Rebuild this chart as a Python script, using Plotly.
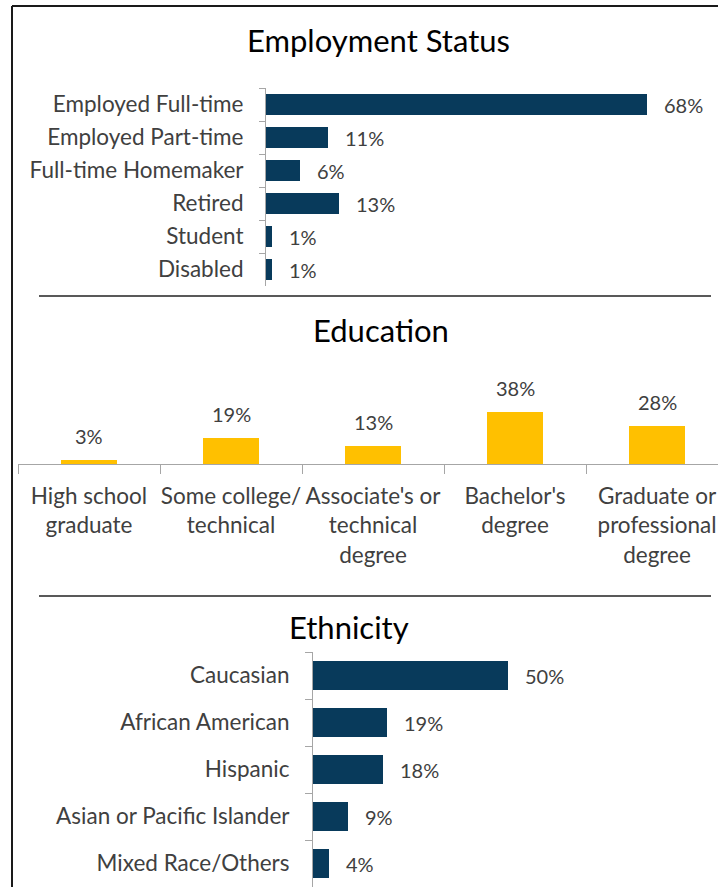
import plotly.graph_objects as go

# Employment status shares (%)
employment_cats = ["Employed Full-time", "Employed Part-time", "Full-time Homemaker",
                   "Retired", "Student", "Disabled"]
employment_vals = [68, 11, 6, 13, 1, 1]

# Education shares (%)
education_cats = ["High school<br>graduate", "Some college/<br>technical",
                  "Associate's or<br>technical<br>degree", "Bachelor's<br>degree",
                  "Graduate or<br>professional<br>degree"]
education_vals = [3, 19, 13, 38, 28]

# Ethnicity shares (%)
ethnicity_cats = ["Caucasian", "African American", "Hispanic",
                  "Asian or Pacific Islander", "Mixed Race/Others"]
ethnicity_vals = [50, 19, 18, 9, 4]

W, H = 718, 887
NAVY = "#083A5B"
GOLD = "#FFC000"
TXT = "#404040"
AXIS = "#A6A6A6"
FONT = "Lato"


def px(x):
    return x / W


def py(y):
    return 1 - y / H


fig = go.Figure()

fig.add_trace(go.Bar(x=employment_vals, y=employment_cats, orientation="h",
                     marker=dict(color=NAVY, line=dict(width=0)), width=0.62,
                     xaxis="x", yaxis="y", hoverinfo="skip"))
fig.add_trace(go.Bar(x=education_cats, y=education_vals,
                     marker=dict(color=GOLD, line=dict(width=0)), width=0.4,
                     xaxis="x2", yaxis="y2", hoverinfo="skip"))
fig.add_trace(go.Bar(x=ethnicity_vals, y=ethnicity_cats, orientation="h",
                     marker=dict(color=NAVY, line=dict(width=0)), width=0.63,
                     xaxis="x3", yaxis="y3", hoverinfo="skip"))

valfont = dict(size=20, color=TXT, family=FONT)
annotations = []
for c, v in zip(employment_cats, employment_vals):
    annotations.append(dict(x=v, y=c, xref="x", yref="y", text=f"{v}%", showarrow=False,
                            xanchor="left", xshift=15, font=valfont))
for c, v in zip(education_cats, education_vals):
    annotations.append(dict(x=c, y=v, xref="x2", yref="y2", text=f"{v}%", showarrow=False,
                            yanchor="middle", yshift=24, font=valfont))
for c, v in zip(ethnicity_cats, ethnicity_vals):
    annotations.append(dict(x=v, y=c, xref="x3", yref="y3", text=f"{v}%", showarrow=False,
                            xanchor="left", xshift=15, font=valfont))

# Panel titles
for text, cx, cy in [("Employment Status", 378, 40), ("Education", 381, 330), ("Ethnicity", 349, 627)]:
    annotations.append(dict(x=px(cx), y=py(cy), xref="paper", yref="paper", text=text,
                            showarrow=False, xanchor="center", yanchor="middle",
                            font=dict(size=31, color="#000000", family=FONT)))

shapes = [
    # outer frame (left and top edges)
    dict(type="line", xref="paper", yref="paper", x0=px(12), x1=px(12), y0=py(6), y1=0,
         line=dict(color="#1A1A1A", width=2)),
    dict(type="line", xref="paper", yref="paper", x0=px(12), x1=1, y0=py(6), y1=py(6),
         line=dict(color="#1A1A1A", width=2)),
    # panel separators
    dict(type="line", xref="paper", yref="paper", x0=px(39), x1=px(711), y0=py(296), y1=py(296),
         line=dict(color="#595959", width=2)),
    dict(type="line", xref="paper", yref="paper", x0=px(39), x1=px(711), y0=py(596), y1=py(596),
         line=dict(color="#595959", width=2)),
]

tickfont = dict(size=22.5, color=TXT, family=FONT)

fig.update_layout(
    width=W, height=H, margin=dict(l=0, r=0, t=0, b=0),
    paper_bgcolor="white", plot_bgcolor="rgba(0,0,0,0)",
    showlegend=False, bargap=0,
    font=dict(family=FONT, color=TXT),
    annotations=annotations, shapes=shapes,
    # Employment panel
    xaxis=dict(domain=[px(266), 1], range=[0, (718 - 266) / 5.6], showgrid=False,
               zeroline=False, showticklabels=False, showline=False),
    yaxis=dict(domain=[py(286), py(88)], type="category", categoryorder="array",
               categoryarray=employment_cats, range=[5.5, -0.5], anchor="x",
               showline=True, linecolor=AXIS, linewidth=1, ticks="outside",
               tickson="boundaries", ticklen=6, tickcolor=AXIS, tickfont=tickfont,
               ticklabelstandoff=17, showgrid=False, zeroline=False),
    # Education panel
    xaxis2=dict(domain=[px(18), 1], type="category", categoryorder="array",
                categoryarray=education_cats, range=[-0.5, -0.5 + (718 - 18) / 142],
                anchor="y2", showline=True, linecolor=AXIS, linewidth=1, ticks="outside",
                tickson="boundaries", ticklen=9, tickcolor=AXIS, tickfont=tickfont,
                ticklabelstandoff=12, showgrid=False, zeroline=False, tickangle=0),
    yaxis2=dict(domain=[py(464), py(370)], range=[0, (464 - 370) / 1.37], anchor="x2",
                showgrid=False, zeroline=False, showticklabels=False, showline=False),
    # Ethnicity panel
    xaxis3=dict(domain=[px(313), 1], range=[0, (718 - 313) / 3.9], anchor="y3",
                showgrid=False, zeroline=False, showticklabels=False, showline=False),
    yaxis3=dict(domain=[0, py(652)], type="category", categoryorder="array",
                categoryarray=ethnicity_cats, range=[4.5, -0.5], anchor="x3",
                showline=True, linecolor=AXIS, linewidth=1, ticks="outside",
                tickson="boundaries", ticklen=7, tickcolor=AXIS, tickfont=tickfont,
                ticklabelstandoff=18, showgrid=False, zeroline=False),
)

fig.write_html("out.html")
